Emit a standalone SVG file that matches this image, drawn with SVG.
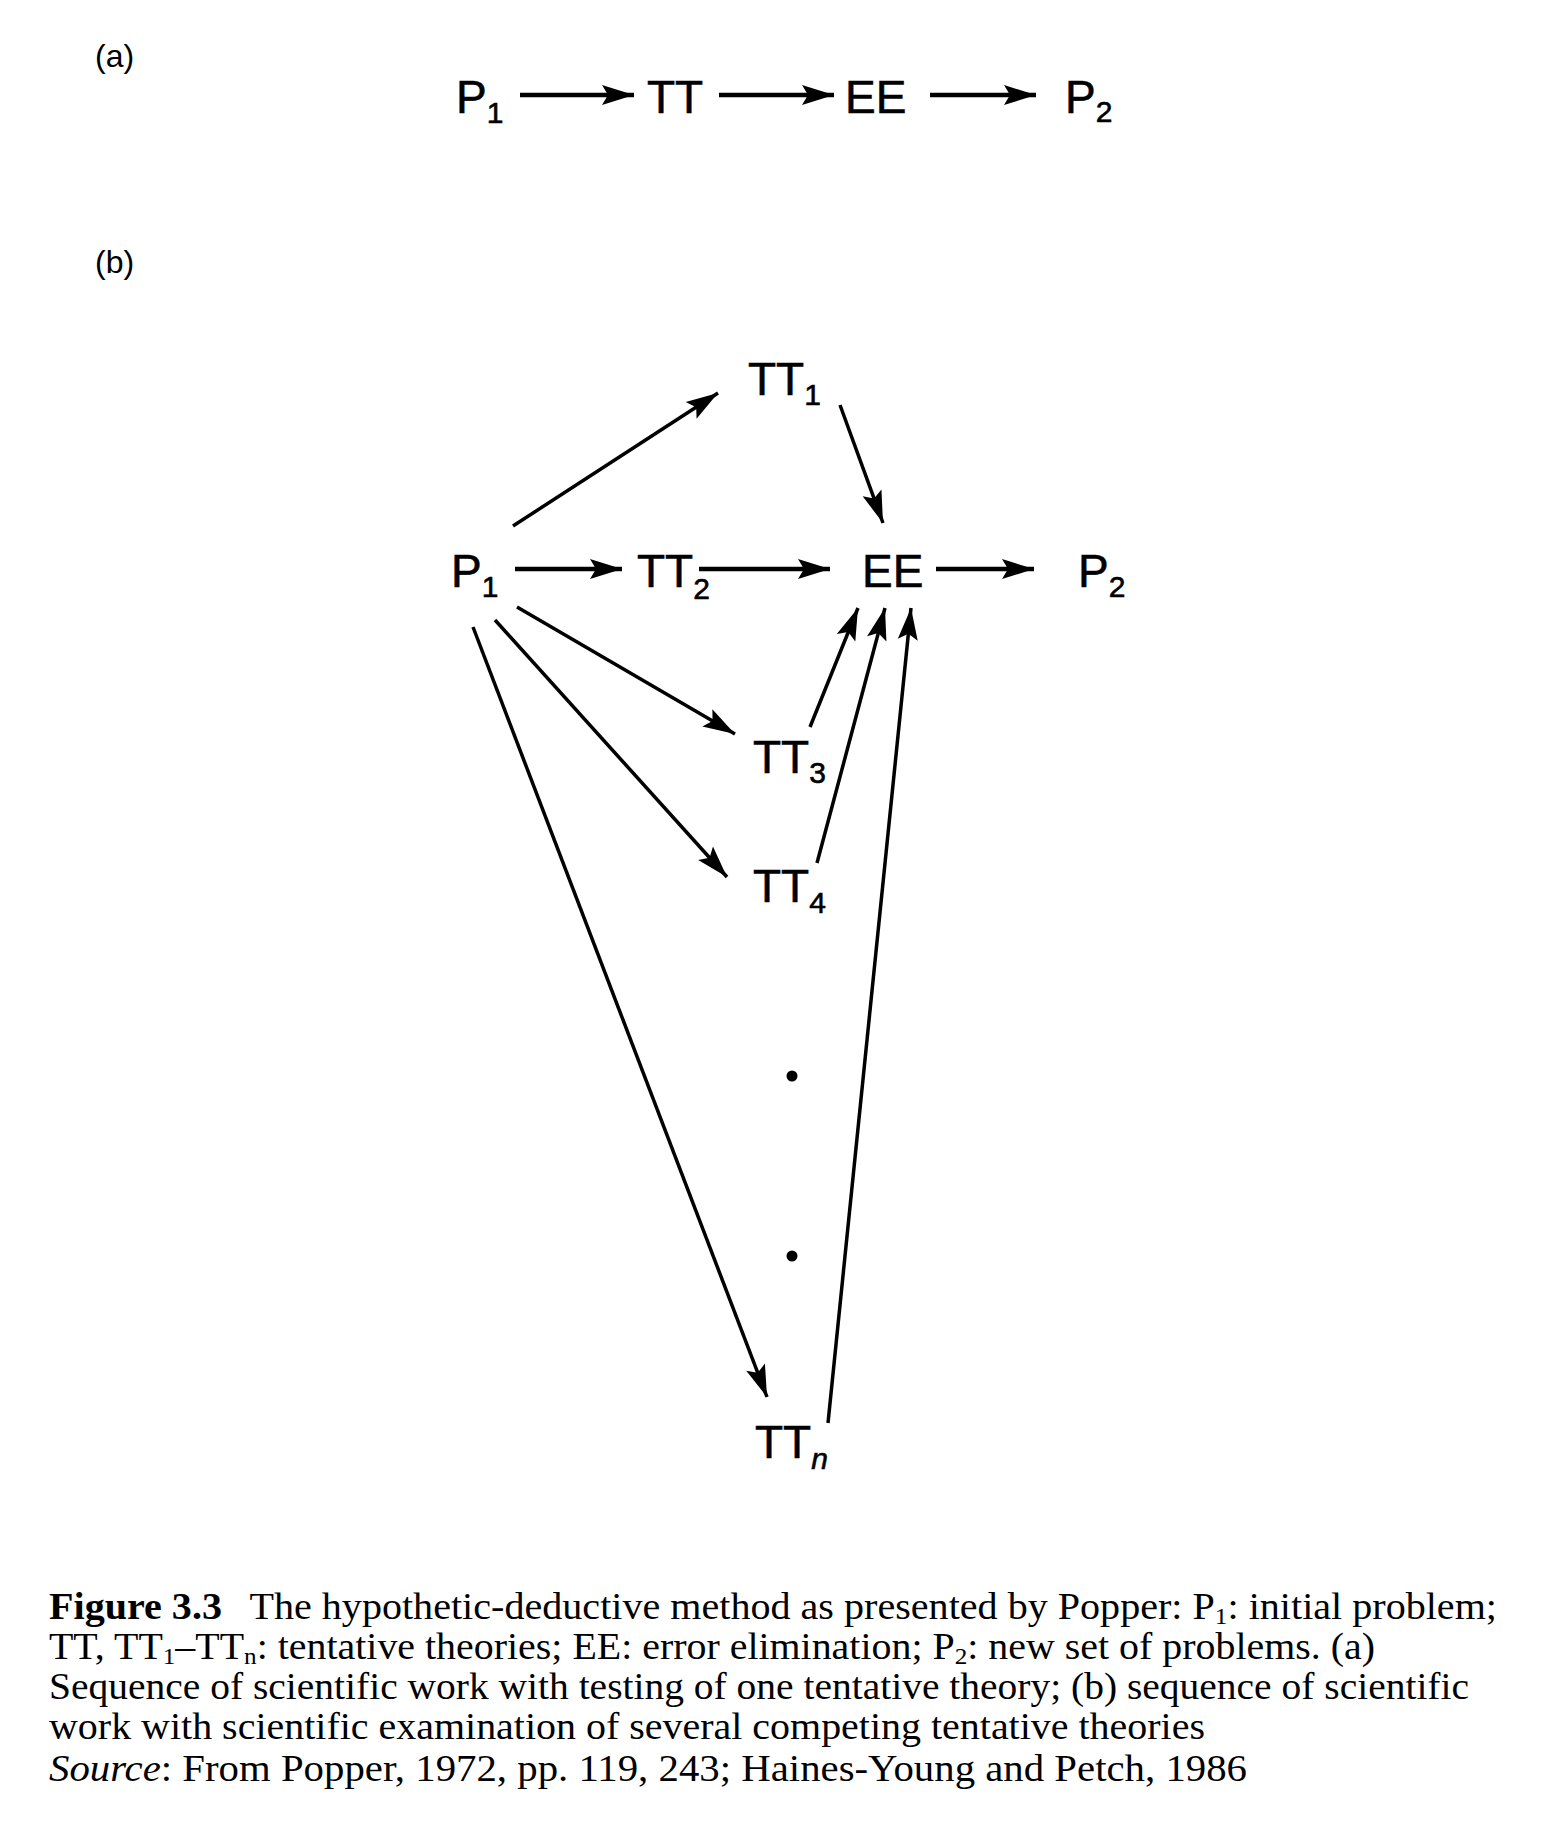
<svg xmlns="http://www.w3.org/2000/svg" width="1548" height="1824" viewBox="0 0 1548 1824">
<style>
.n{font-family:"Liberation Sans",Arial,sans-serif;font-size:46px;fill:#000;stroke:#000;stroke-width:0.6}
.s{font-size:30px}
.lab{font-family:"Liberation Sans",Arial,sans-serif;font-size:32px;fill:#000}
.cap{font-family:"Liberation Serif","Times New Roman",serif;font-size:38px;fill:#000}
.cs{font-size:24px}
.e{stroke:#000;stroke-width:3.5;fill:none;marker-end:url(#ah)}
.ea{stroke:#000;stroke-width:4.5;fill:none;marker-end:url(#ah)}
</style>
<defs>
<marker id="ah" markerUnits="userSpaceOnUse" markerWidth="34" markerHeight="22" refX="32" refY="10" orient="auto" overflow="visible">
<path d="M0,0 L32,10 L0,20 L6,10 z" fill="#000"/>
</marker>
</defs>
<rect width="1548" height="1824" fill="#fff"/>
<text class="lab" x="95" y="67">(a)</text>
<text class="lab" x="95" y="273">(b)</text>
<g id="a_P1"><text class="n" x="456" y="113">P<tspan class="s" dy="10">1</tspan></text></g>
<g id="a_TT"><text class="n" x="647" y="113">TT</text></g>
<g id="a_EE"><text class="n" x="845" y="113">EE</text></g>
<g id="a_P2"><text class="n" x="1065" y="113">P<tspan class="s" dy="9">2</tspan></text></g>
<g id="b_TT1"><text class="n" x="748" y="395">TT<tspan class="s" dy="10">1</tspan></text></g>
<g id="b_P1"><text class="n" x="451" y="587">P<tspan class="s" dy="10">1</tspan></text></g>
<g id="b_TT2"><text class="n" x="637" y="587">TT<tspan class="s" dy="12">2</tspan></text></g>
<g id="b_EE"><text class="n" x="862" y="587">EE</text></g>
<g id="b_P2"><text class="n" x="1078" y="587">P<tspan class="s" dy="10">2</tspan></text></g>
<g id="b_TT3"><text class="n" x="753" y="773">TT<tspan class="s" dy="10">3</tspan></text></g>
<g id="b_TT4"><text class="n" x="753" y="902">TT<tspan class="s" dy="11">4</tspan></text></g>
<g id="b_dots"><circle cx="792" cy="1076" r="5.5"/><circle cx="792" cy="1256" r="5.5"/></g>
<g id="b_TTn"><text class="n" x="755" y="1458">TT<tspan class="s" font-style="italic" dy="11">n</tspan></text></g>
<g id="connectors">
<line class="ea" x1="520" y1="95" x2="634" y2="95"/>
<line class="ea" x1="719" y1="95" x2="834" y2="95"/>
<line class="ea" x1="930" y1="95" x2="1036" y2="95"/>
<line class="e" x1="513" y1="526" x2="718" y2="393"/>
<line class="e" x1="840" y1="405" x2="883" y2="523"/>
<line class="ea" x1="515" y1="569" x2="622" y2="569"/>
<line class="ea" x1="699" y1="569" x2="830" y2="569"/>
<line class="ea" x1="936" y1="569" x2="1034" y2="569"/>
<line class="e" x1="517" y1="607" x2="735" y2="734"/>
<line class="e" x1="495" y1="620" x2="727" y2="877"/>
<line class="e" x1="473" y1="627" x2="767" y2="1397"/>
<line class="e" x1="810" y1="727" x2="858" y2="608"/>
<line class="e" x1="817" y1="863" x2="885" y2="608"/>
<line class="e" x1="828" y1="1423" x2="911" y2="608"/>
</g>
<g id="caption">
<text class="cap" x="49" y="1619" textLength="1448" lengthAdjust="spacingAndGlyphs"><tspan font-weight="bold">Figure 3.3</tspan><tspan dx="26">The hypothetic-deductive method as presented by Popper: P</tspan><tspan class="cs" dy="5">1</tspan><tspan dy="-5">: initial problem;</tspan></text>
<text class="cap" x="49" y="1659" textLength="1326" lengthAdjust="spacingAndGlyphs">TT, TT<tspan class="cs" dy="5">1</tspan><tspan dy="-5">–TT</tspan><tspan class="cs" dy="5">n</tspan><tspan dy="-5">: tentative theories; EE: error elimination; P</tspan><tspan class="cs" dy="5">2</tspan><tspan dy="-5">: new set of problems. (a)</tspan></text>
<text class="cap" x="49" y="1699" textLength="1420" lengthAdjust="spacingAndGlyphs">Sequence of scientific work with testing of one tentative theory; (b) sequence of scientific</text>
<text class="cap" x="49" y="1739" textLength="1156" lengthAdjust="spacingAndGlyphs">work with scientific examination of several competing tentative theories</text>
<text class="cap" x="49" y="1781" textLength="1198" lengthAdjust="spacingAndGlyphs"><tspan font-style="italic">Source</tspan>: From Popper, 1972, pp. 119, 243; Haines-Young and Petch, 1986</text>
</g>
</svg>
